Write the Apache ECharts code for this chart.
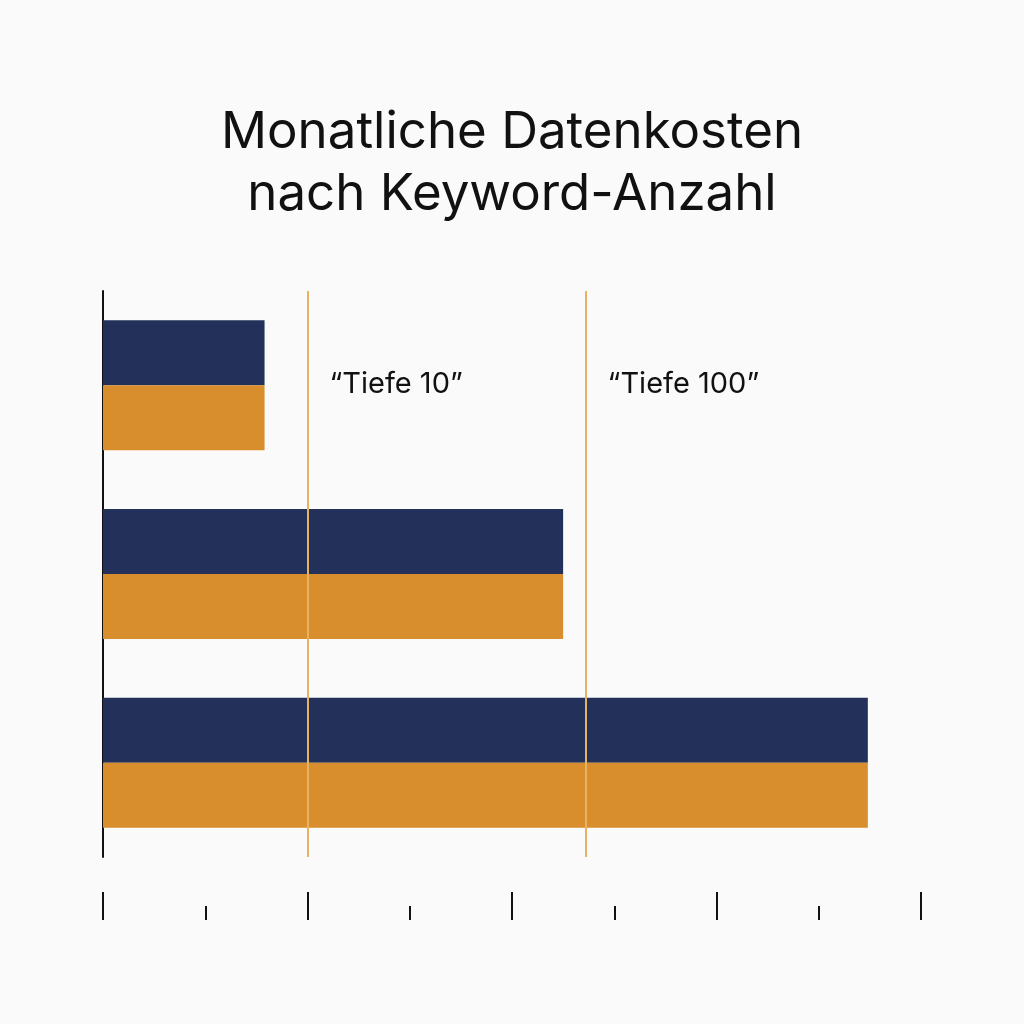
<!DOCTYPE html>
<html>
<head>
<meta charset="utf-8">
<script src="https://cdn.jsdelivr.net/npm/echarts@6/dist/echarts.min.js"></script>
<style>html,body{margin:0;padding:0;background:#fafafa;}#c{width:1024px;height:1024px;}</style>
</head>
<body>
<div id="c"></div>
<script>
const categories = ['1.000 Keywords', '5.000 Keywords', '10.000 Keywords'];
const seriesNames = ['Kosten A', 'Kosten B'];
const valuesA = [79, 225, 374];
const valuesB = [79, 225, 374];
const markValues = [100, 236];
const markLabels = ['“Tiefe 10”', '“Tiefe 100”'];
const titleText = 'Monatliche Datenkosten\nnach Keyword-Anzahl';

const chart = echarts.init(document.getElementById('c'));
const FONT = 'Inter, "Noto Sans", sans-serif';
chart.setOption({
  backgroundColor: '#fafafa',
  animation: false,
  title: {
    text: titleText,
    left: 'center',
    top: 97,
    textStyle: { fontFamily: FONT, fontSize: 51, fontWeight: 'normal', color: '#111', lineHeight: 62 }
  },
  grid: { left: 103, right: 103, top: 291, bottom: 167, containLabel: false },
  xAxis: {
    type: 'value', min: 0, max: 400, interval: 100,
    offset: 63,
    axisLine: { show: false },
    axisTick: { show: true, inside: true, length: 28, lineStyle: { color: '#111', width: 2 } },
    minorTick: { show: true, splitNumber: 2, length: 14, lineStyle: { color: '#111', width: 2 } },
    axisLabel: { show: false },
    splitLine: { show: false }
  },
  yAxis: {
    type: 'category', data: categories, inverse: true,
    axisLine: { show: true, lineStyle: { color: '#111', width: 2 } },
    axisTick: { show: false },
    axisLabel: { show: false }
  },
  series: [
    {
      name: seriesNames[0], type: 'bar', data: valuesA, barWidth: 65, barGap: '0%',
      itemStyle: { color: '#22305a' },
      markLine: {
        symbol: 'none', silent: true, z: 10,
        lineStyle: { color: '#e8b360', width: 2, type: 'solid' },
        label: {
          show: true, position: 'start', formatter: p => markLabels[p.dataIndex],
          fontFamily: FONT, fontSize: 29, color: '#111', align: 'left', verticalAlign: 'middle',
          distance: 0, offset: [22, 93]
        },
        data: markValues.map(v => ({ xAxis: v }))
      }
    },
    {
      name: seriesNames[1], type: 'bar', data: valuesB, barWidth: 65, barGap: '0%',
      itemStyle: { color: '#d88e2c' }
    }
  ]
});
</script>
</body>
</html>
